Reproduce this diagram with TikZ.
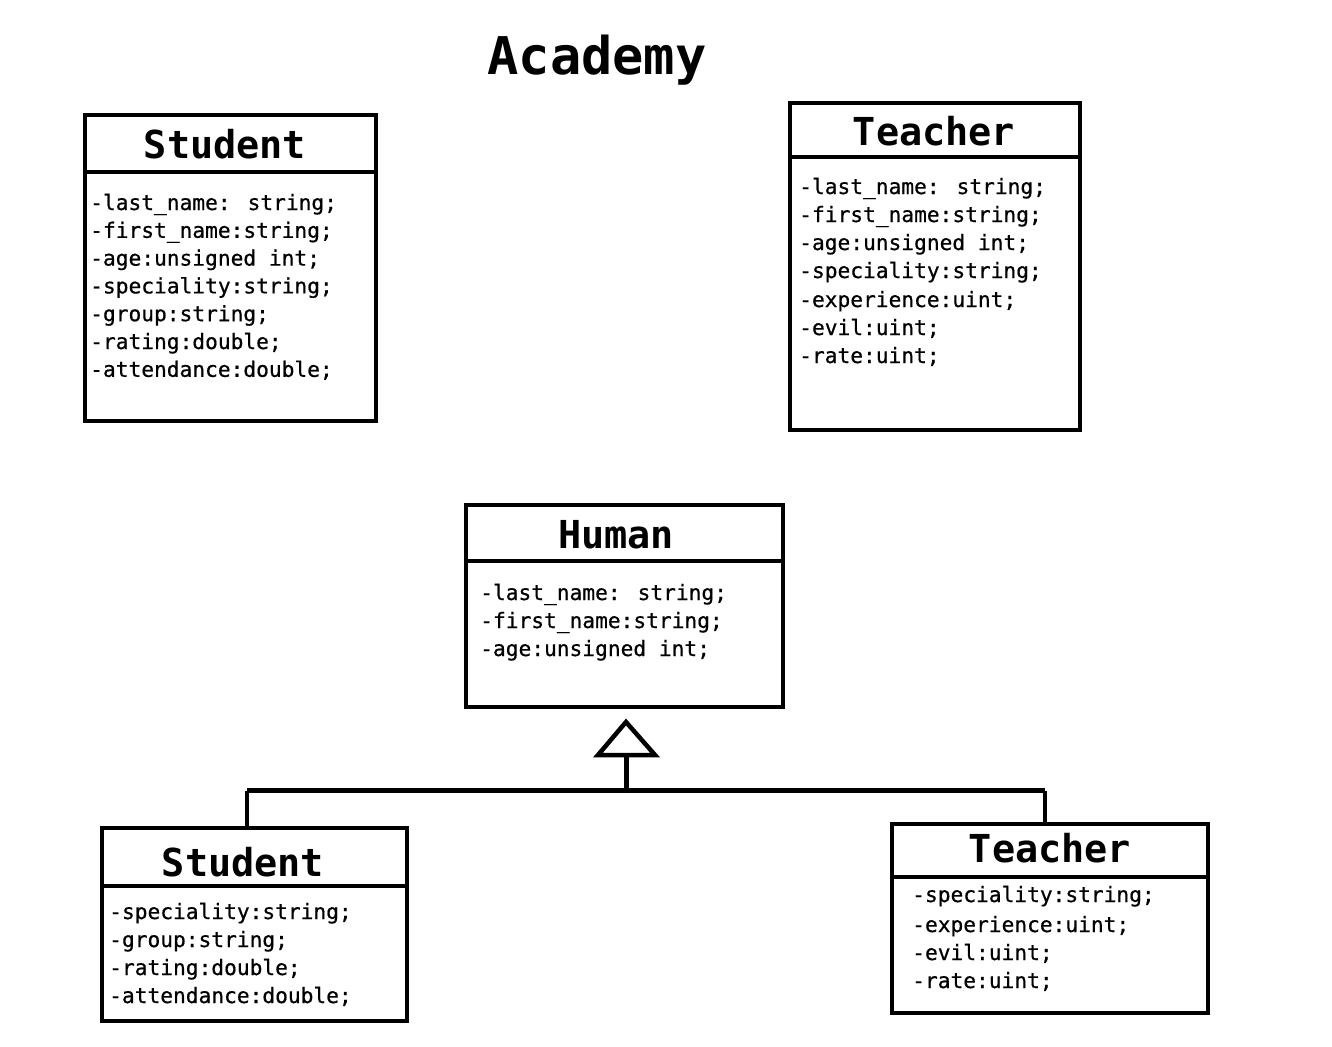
\documentclass[tikz,border=0pt]{standalone}
\usepackage{fontspec}
\newfontfamily\cons{DejaVu Sans Mono}
\newfontfamily\consb{DejaVu Sans Mono}[FakeBold=0.6]
\begin{document}
\begin{tikzpicture}[x=1pt,y=-1pt,line width=4.5pt,
  cls/.style={draw,line width=4.5pt,inner sep=0pt,fill=none},
  ttl/.style={anchor=base,inner sep=0pt,font={\cons\bfseries\fontsize{38.5}{40}\selectfont}},
  attr/.style={anchor=base west,inner sep=0pt,font={\consb\fontsize{21.2}{28}\selectfont}},
  sep/.style={line width=4.5pt},
  conn/.style={line width=4.5pt,line join=miter}]
\useasboundingbox (0,0) rectangle (1332,1046);
\fill[white] (0,0) rectangle (1332,1046);

% title
\node[anchor=base,inner sep=0pt,font={\cons\bfseries\fontsize{52}{54}\selectfont}] (acad) at (597,75) {Academy};

% Student (top)
\node[cls,minimum width=291pt,minimum height=306pt] (s1) at (230.5,268) {};
\draw[sep] (s1.west |- 0,172) -- (s1.east |- 0,172);
\node[ttl] (s1t) at (225,158) {Student};
\foreach \t [count=\i from 0] in {-last\_name: string;,-first\_name:string;,-age:unsigned int;,-speciality:string;,-group:string;,-rating:double;,-attendance:double;}
  \node[attr] (s1a\i) at (88,210+27.8*\i) {\t};

% Teacher (top)
\node[cls,minimum width=290pt,minimum height=327pt] (t1) at (935,266.5) {};
\draw[sep] (t1.west |- 0,157) -- (t1.east |- 0,157);
\node[ttl] (t1t) at (934,146) {Teacher};
\foreach \t/\yy [count=\i from 0] in {-last\_name: string;/194,-first\_name:string;/222,-age:unsigned int;/250,-speciality:string;/278,-experience:uint;/307,-evil:uint;/335,-rate:uint;/363}
  \node[attr] (t1a\i) at (797,\yy) {\t};

% Human
\node[cls,minimum width=317pt,minimum height=202pt] (h) at (624.5,606) {};
\draw[sep] (h.west |- 0,561) -- (h.east |- 0,561);
\node[ttl] (ht) at (616,548) {Human};
\foreach \t [count=\i from 0] in {-last\_name: string;,-first\_name:string;,-age:unsigned int;}
  \node[attr] (ha\i) at (478,600+28*\i) {\t};

% Student (bottom)
\node[cls,minimum width=305pt,minimum height=193pt] (s2) at (254.5,924.5) {};
\draw[sep] (s2.west |- 0,886) -- (s2.east |- 0,886);
\node[ttl] (s2t) at (243,876) {Student};
\foreach \t [count=\i from 0] in {-speciality:string;,-group:string;,-rating:double;,-attendance:double;}
  \node[attr] (s2a\i) at (107,919+28*\i) {\t};

% Teacher (bottom)
\node[cls,minimum width=316pt,minimum height=189pt] (t2) at (1050,918.5) {};
\draw[sep] (t2.west |- 0,877) -- (t2.east |- 0,877);
\node[ttl] (t2t) at (1050,862) {Teacher};
\foreach \t/\yy [count=\i from 0] in {-speciality:string;/902,-experience:uint;/932,-evil:uint;/960,-rate:uint;/988}
  \node[attr] (t2a\i) at (910,\yy) {\t};

% inheritance connector
\coordinate (tip) at (626,722);
\coordinate (tbl) at (598,755);
\coordinate (tbr) at (655,755);
\coordinate (tb) at (626.5,755);
\coordinate (j) at (626.5,790.5);
\coordinate (sl) at (247,790.5);
\coordinate (sr) at (1045,790.5);
\draw[conn] (tip) -- (tbr) -- (tbl) -- cycle;
\draw[conn] (tb) -- (j);
\draw[conn] (sl) -- (sr);
\draw[conn] (sl) -- (sl |- s2.north);
\draw[conn] (sr) -- (sr |- t2.north);
\end{tikzpicture}
\end{document}
